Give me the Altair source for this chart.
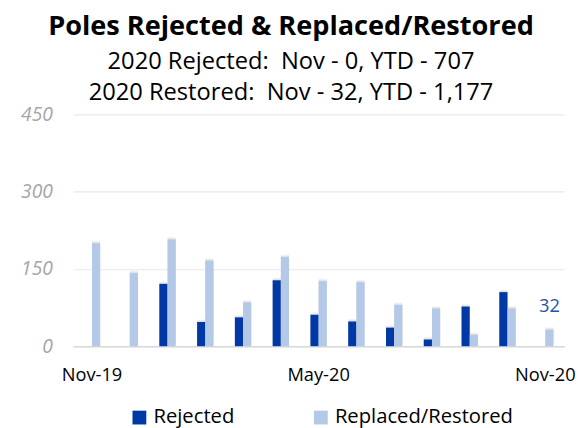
import altair as alt
import pandas as pd

months = ["Nov-19", "Dec-19", "Jan-20", "Feb-20", "Mar-20", "Apr-20", "May-20",
          "Jun-20", "Jul-20", "Aug-20", "Sep-20", "Oct-20", "Nov-20"]
rejected = [0, 0, 121, 47, 56, 128, 61, 48, 36, 13, 77, 105, 0]
restored = [200, 142, 207, 166, 85, 173, 126, 124, 80, 73, 22, 73, 32]
series = ["Rejected", "Replaced/Restored"]
colors = ["#0039A6", "#B4C8E8"]
tick_months = ["Nov-19", "May-20", "Nov-20"]

rows = []
for m, r, s in zip(months, rejected, restored):
    rows.append({"month": m, "series": series[0], "value": r, "label": ""})
    rows.append({"month": m, "series": series[1], "value": s,
                 "label": str(s) if m == "Nov-20" else ""})
df = pd.DataFrame(rows)

FONT = "Open Sans"
NB = "\u00a0"

xscale = alt.Scale(paddingInner=0.565, paddingOuter=0.2825)
x = alt.X("month:N", sort=months, title=None, scale=xscale,
          axis=alt.Axis(values=tick_months, labelAngle=0, ticks=False,
                        domain=True, domainColor="#D9D9D9", domainWidth=1.5,
                        labelFont=FONT, labelFontSize=18.5, labelColor="#000000",
                        labelPadding=20))
y = alt.Y("value:Q", title=None,
          scale=alt.Scale(domain=[0, 450], nice=False),
          axis=alt.Axis(values=[0, 150, 300, 450], domain=False, ticks=False,
                        labelFont=FONT, labelFontSize=19.5, labelFontStyle="italic",
                        labelColor="#A6A6A6", labelPadding=21,
                        gridColor="#E8E8E8", gridWidth=1.2))
xoff = alt.XOffset("series:N", sort=series, scale=alt.Scale(paddingInner=0, paddingOuter=0))

shadows = []
for k in (2, 4, 6, 8):
    shadows.append(
        alt.Chart(df).mark_bar(color="#000000", opacity=0.03,
                               xOffset=-k, yOffset=-k / 3, y2Offset=0).encode(
            x=x, y=y, xOffset=xoff,
        ).transform_filter(alt.datum.value > 0)
    )

bars = alt.Chart(df).mark_bar().encode(
    x=x, y=y,
    xOffset=xoff,
    color=alt.Color("series:N", sort=series,
                    scale=alt.Scale(domain=series, range=colors),
                    legend=alt.Legend(title=None, orient="none", direction="horizontal",
                                      legendX=57, legendY=297, padding=0,
                                      symbolType="square", symbolSize=196,
                                      symbolStrokeWidth=0, labelFont=FONT,
                                      labelFontSize=20.5, labelColor="#000000",
                                      labelLimit=0, labelOffset=4, columnPadding=77)),
)

labels = alt.Chart(df).transform_filter(alt.datum.label != "").mark_text(
    font=FONT, fontSize=18.5, color="#2353A5", baseline="bottom", dy=-14
).encode(
    x=x, y=y, xOffset=xoff,
    text="label:N",
)

chart = alt.layer(*shadows, bars, labels).properties(
    width=498, height=235,
    autosize=alt.AutoSizeParams(type="none"),
    padding={"left": 66, "top": 105, "right": 13, "bottom": 80},
    title=alt.TitleParams(
        text="Poles Rejected & Replaced/Restored",
        subtitle=[f"2020 Rejected:{NB} Nov - 0, YTD - 707",
                  f"2020 Restored:{NB} Nov - 32, YTD - 1,177"],
        font=FONT, fontSize=27.5, fontWeight="bold", color="#000000",
        subtitleFont=FONT, subtitleFontSize=24, subtitleColor="#000000",
        subtitleLineHeight=31, subtitlePadding=10,
        anchor="middle", dx=-28, offset=0,
    ),
).configure_view(stroke=None)

chart.save("out.html", embed_options={"renderer": "svg", "actions": False})
